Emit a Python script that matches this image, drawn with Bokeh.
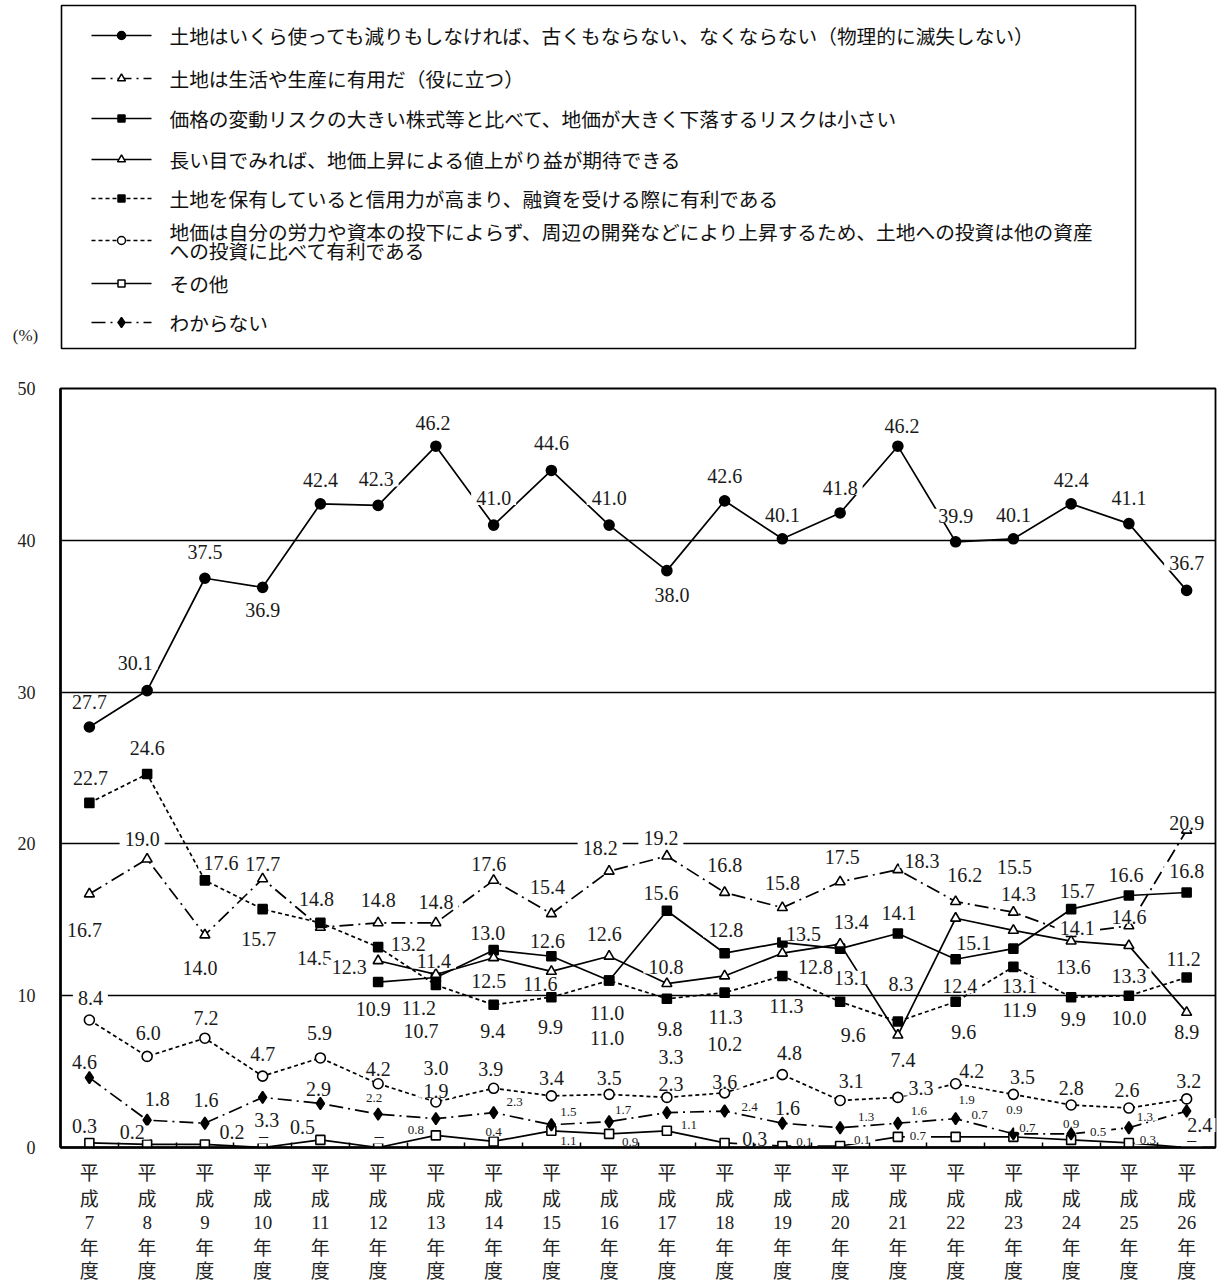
from bokeh.plotting import figure
from bokeh.models import Range1d, FixedTicker, ColumnDataSource
from bokeh.layouts import column
from bokeh.embed import file_html
from bokeh.resources import INLINE
from bokeh.core.properties import value

CJK = "Noto Sans CJK JP"
SERIF = "Liberation Serif"

# ---- data -------------------------------------------------------------
fiscal_years = ["7", "8", "9", "10", "11", "12", "13", "14", "15", "16",
                "17", "18", "19", "20", "21", "22", "23", "24", "25", "26"]

series_names = [
    "土地はいくら使っても減りもしなければ、古くもならない、なくならない（物理的に滅失しない）",
    "土地は生活や生産に有用だ（役に立つ）",
    "価格の変動リスクの大きい株式等と比べて、地価が大きく下落するリスクは小さい",
    "長い目でみれば、地価上昇による値上がり益が期待できる",
    "土地を保有していると信用力が高まり、融資を受ける際に有利である",
    "地価は自分の労力や資本の投下によらず、周辺の開発などにより上昇するため、土地への投資は他の資産\nへの投資に比べて有利である",
    "その他",
    "わからない",
]

v_no_depreciation = [27.7, 30.1, 37.5, 36.9, 42.4, 42.3, 46.2, 41.0, 44.6, 41.0,
                     38.0, 42.6, 40.1, 41.8, 46.2, 39.9, 40.1, 42.4, 41.1, 36.7]
v_useful = [16.7, 19.0, 14.0, 17.7, 14.5, 14.8, 14.8, 17.6, 15.4, 18.2,
            19.2, 16.8, 15.8, 17.5, 18.3, 16.2, 15.5, 14.1, 14.6, 20.9]
v_low_risk = [None, None, None, None, None, 10.9, 11.2, 13.0, 12.6, 11.0,
              15.6, 12.8, 13.5, 13.1, 14.1, 12.4, 13.1, 15.7, 16.6, 16.8]
v_capital_gain = [None, None, None, None, None, 12.3, 11.4, 12.5, 11.6, 12.6,
                  10.8, 11.3, 12.8, 13.4, 7.4, 15.1, 14.3, 13.6, 13.3, 8.9]
v_credit = [22.7, 24.6, 17.6, 15.7, 14.8, 13.2, 10.7, 9.4, 9.9, 11.0,
            9.8, 10.2, 11.3, 9.6, 8.3, 9.6, 11.9, 9.9, 10.0, 11.2]
v_unearned = [8.4, 6.0, 7.2, 4.7, 5.9, 4.2, 3.0, 3.9, 3.4, 3.5,
              3.3, 3.6, 4.8, 3.1, 3.3, 4.2, 3.5, 2.8, 2.6, 3.2]
v_other = [0.3, 0.2, 0.2, 0.0, 0.5, 0.0, 0.8, 0.4, 1.1, 0.9,
           1.1, 0.3, 0.1, 0.1, 0.7, 0.7, 0.7, 0.5, 0.3, 0.0]
v_dont_know = [4.6, 1.8, 1.6, 3.3, 2.9, 2.2, 1.9, 2.3, 1.5, 1.7,
               2.3, 2.4, 1.6, 1.3, 1.6, 1.9, 0.9, 0.9, 1.3, 2.4]

series_values = [v_no_depreciation, v_useful, v_low_risk, v_capital_gain,
                 v_credit, v_unearned, v_other, v_dont_know]

# ---- styles -----------------------------------------------------------
DASHDOT = "14 5 2 5"
SHORT = "4 3"
styles = [
    dict(dash="solid", marker="circle", size=10, fill="black"),
    dict(dash=DASHDOT, marker="triangle", size=10, fill="white"),
    dict(dash="solid", marker="square", size=9, fill="black"),
    dict(dash="solid", marker="triangle", size=10, fill="white"),
    dict(dash=SHORT, marker="square", size=9, fill="black"),
    dict(dash=SHORT, marker="circle", size=10, fill="white"),
    dict(dash="solid", marker="square", size=9, fill="white"),
    dict(dash=DASHDOT, marker="diamond", size=12, fill="black"),
]

# value-label placement (screen px, y downwards), one pair per drawn point
label_offsets = [
    [(0, -25), (-12, -28), (0, -26), (0, 23), (0, -24), (-2, -26), (-3, -23), (0, -27), (0, -27), (0, -27),
     (5, 24), (0, -25), (0, -24), (0, -25), (4, -20), (0, -26), (0, -24), (0, -24), (0, -26), (0, -27)],
    [(-5, 36), (-5, -20), (-5, 33), (0, -15), (-6, 31), (0, -23), (0, -21), (-5, -16), (-4, -27), (-9, -23),
     (-6, -18), (0, -27), (0, -25), (2, -25), (24, -9), (9, -27), (1, -45), (6, -5), (0, -9), (0, -7)],
    [(-5, 27), (-17, 31), (-6, -17), (-4, -15), (-2, 32), (-6, -18), (1, -23), (21, -9), (11, 29), (1, -20),
     (4, 27), (6, 37), (6, -18), (-3, -21), (0, -21)],
    [(-29, 6), (-2, -13), (-5, 23), (-11, 13), (-5, -22), (-1, -17), (1, 41), (33, 14), (11, -22), (5, 25),
     (18, 25), (5, -36), (2, 26), (0, 30), (0, 20)],
    [(1, -25), (0, -26), (16, -17), (-4, 30), (-4, -24), (30, -3), (-15, 46), (-1, 26), (-1, 30), (-2, 57),
     (3, 30), (0, 51), (4, 30), (13, 33), (3, -38), (8, 30), (6, 43), (2, 22), (0, 22), (-3, -18)],
    [(1, -22), (1, -23), (1, -20), (0, -22), (-1, -25), (0, -15), (0, -34), (-3, -19), (0, -18), (0, -16),
     (4, -40), (0, -11), (7, -22), (11, -19), (23, -9), (16, -13), (9, -17), (0, -17), (-2, -18), (2, -18)],
    [(-5, -17), (-15, -12), (27, -12), (1, -11), (-18, -13), (1, -11), (-20, -5), (0, -9), (17, 10), (21, 8),
     (22, -6), (30, -4), (22, -4), (22, -6), (20, -1), (24, -22), (14, -9), (27, -8), (19, -3), (5, -7)],
    [(-5, -16), (10, -21), (1, -23), (4, 23), (-2, -14), (-4, -16), (0, -28), (21, -11), (17, -13), (14, -12),
     (4, -29), (25, -4), (5, -15), (26, -11), (21, -12), (11, -19), (1, -24), (0, -10), (16, -11), (13, 14)],
]
small_labels = {
    6: {6, 7, 8, 9, 10, 12, 13, 14, 15, 16, 17, 18},
    7: {5, 7, 8, 9, 11, 13, 14, 15, 16, 17, 18},
}


def fmt(v):
    return "\u2212" if v == 0 else f"{v:.1f}"


# Shared horizontal frame for the chart: 60 px on the left, 14 px on the right.
LEFT, RIGHT, WIDTH = 60, 14, 1229

# ---- legend panel (its own full-width frame, pixel coordinates) -------
leg = figure(width=WIDTH, height=380, x_range=Range1d(0, WIDTH), y_range=Range1d(380, 0),
             x_axis_type=None, y_axis_type=None, toolbar_location=None, output_backend="svg",
             min_border=0, outline_line_color=None, title=None)
leg.frame_align = False
leg.background_fill_color = "white"
leg.border_fill_color = "white"
leg.quad(left=[61], right=[1135], top=[5], bottom=[348], fill_color=None,
         line_color="black", line_width=1.6)

row_y = [35, 78, 118, 159, 198, 240, 283, 322]
for k, st in enumerate(styles):
    yk = row_y[k]
    leg.line([91, 151], [yk, yk], line_color="black", line_width=1.7, line_dash=st["dash"])
    leg.scatter([121], [yk], marker=st["marker"], size=st["size"] - 2, fill_color=st["fill"],
                line_color="black", line_width=1.5)
    lines = series_names[k].split("\n")
    if len(lines) == 1:
        ty = [yk]
    else:
        ty = [yk - 9.5, yk + 9.5]
    leg.text(x=[169] * len(lines), y=ty, text=lines, text_font=value(CJK),
             text_font_size="19.7px", text_color="#111111", text_align="left",
             text_baseline="middle")

leg.text(x=[25], y=[335], text=["(%)"], text_font=value(SERIF), text_font_size="17px",
         text_color="#222222", text_align="center", text_baseline="middle")

# ---- main chart -------------------------------------------------------
xr = Range1d(-0.5, len(fiscal_years) - 0.5)
p = figure(width=WIDTH, height=777, x_range=xr, y_range=Range1d(0, 50),
           toolbar_location=None, output_backend="svg", title=None,
           min_border_left=LEFT, min_border_right=RIGHT, min_border_top=8, min_border_bottom=10)
p.background_fill_color = "white"
p.border_fill_color = "white"
p.outline_line_color = "black"
p.outline_line_width = 1.8

p.xgrid.visible = False
p.ygrid.ticker = FixedTicker(ticks=[10, 20, 30, 40])
p.ygrid.grid_line_color = "black"
p.ygrid.grid_line_width = 1.6

p.yaxis.ticker = FixedTicker(ticks=[0, 10, 20, 30, 40, 50])
p.yaxis.major_label_text_font = SERIF
p.yaxis.major_label_text_font_size = "18px"
p.yaxis.major_label_text_color = "#222222"
p.yaxis.major_label_standoff = 25
p.yaxis.major_tick_in = 0
p.yaxis.major_tick_out = 0
p.yaxis.minor_tick_line_color = None
p.yaxis.axis_line_width = 2.6

n = len(fiscal_years)
# category boundaries carry the small inward ticks; names are drawn below
p.xaxis.ticker = FixedTicker(ticks=[], minor_ticks=[i + 0.5 for i in range(n - 1)])
p.xaxis.major_tick_in = 0
p.xaxis.major_tick_out = 0
p.xaxis.minor_tick_in = 5
p.xaxis.minor_tick_out = 0
p.xaxis.minor_tick_line_width = 1.5
p.xaxis.major_label_standoff = 0
p.xaxis.axis_line_width = 2.6

label_cols = dict(x=[], y=[], text=[], dx=[], dy=[], fs=[])
for k, (vals, st) in enumerate(zip(series_values, styles)):
    xs = [i for i, v in enumerate(vals) if v is not None]
    ys = [vals[i] for i in xs]
    p.line(xs, ys, line_color="black", line_width=1.7, line_dash=st["dash"])
    p.scatter(xs, ys, marker=st["marker"], size=st["size"], fill_color=st["fill"],
              line_color="black", line_width=1.6)
    small = small_labels.get(k, set())
    for j, (xi, yi) in enumerate(zip(xs, ys)):
        dx, dy = label_offsets[k][j]
        label_cols["x"].append(xi)
        label_cols["y"].append(yi)
        label_cols["text"].append(fmt(yi))
        label_cols["dx"].append(dx)
        label_cols["dy"].append(dy)
        label_cols["fs"].append("13px" if xi in small else "20px")

p.text(x="x", y="y", text="text", x_offset="dx", y_offset="dy", text_font_size="fs",
       source=ColumnDataSource(label_cols), text_font=value(SERIF), text_color="#1a1a1a",
       text_align="center", text_baseline="middle",
       background_fill_color="white", border_line_color=None,
       padding=dict(left=5, right=5, top=0, bottom=0))

# ---- vertical category labels under the axis --------------------------
xl = figure(width=WIDTH, height=126, x_range=xr, y_range=Range1d(126, 0),
            x_axis_type=None, y_axis_type=None, toolbar_location=None, output_backend="svg",
            title=None, min_border_left=LEFT, min_border_right=RIGHT, min_border_top=0,
            min_border_bottom=0, outline_line_color=None)
xl.background_fill_color = "white"
xl.border_fill_color = "white"

tick_rows = [["平"] * n, ["成"] * n, fiscal_years, ["年"] * n, ["度"] * n]
row_fonts = [CJK, CJK, SERIF, CJK, CJK]
row_pos = [14, 40, 65, 89, 112]
for chars, font, ry in zip(tick_rows, row_fonts, row_pos):
    xl.text(x=list(range(n)), y=[ry] * n, text=chars, text_font=value(font),
            text_font_size="19px", text_color="#222222", text_align="center",
            text_baseline="middle")

layout = column(leg, p, xl, spacing=0)
open("out.html", "w").write(file_html(layout, INLINE))
